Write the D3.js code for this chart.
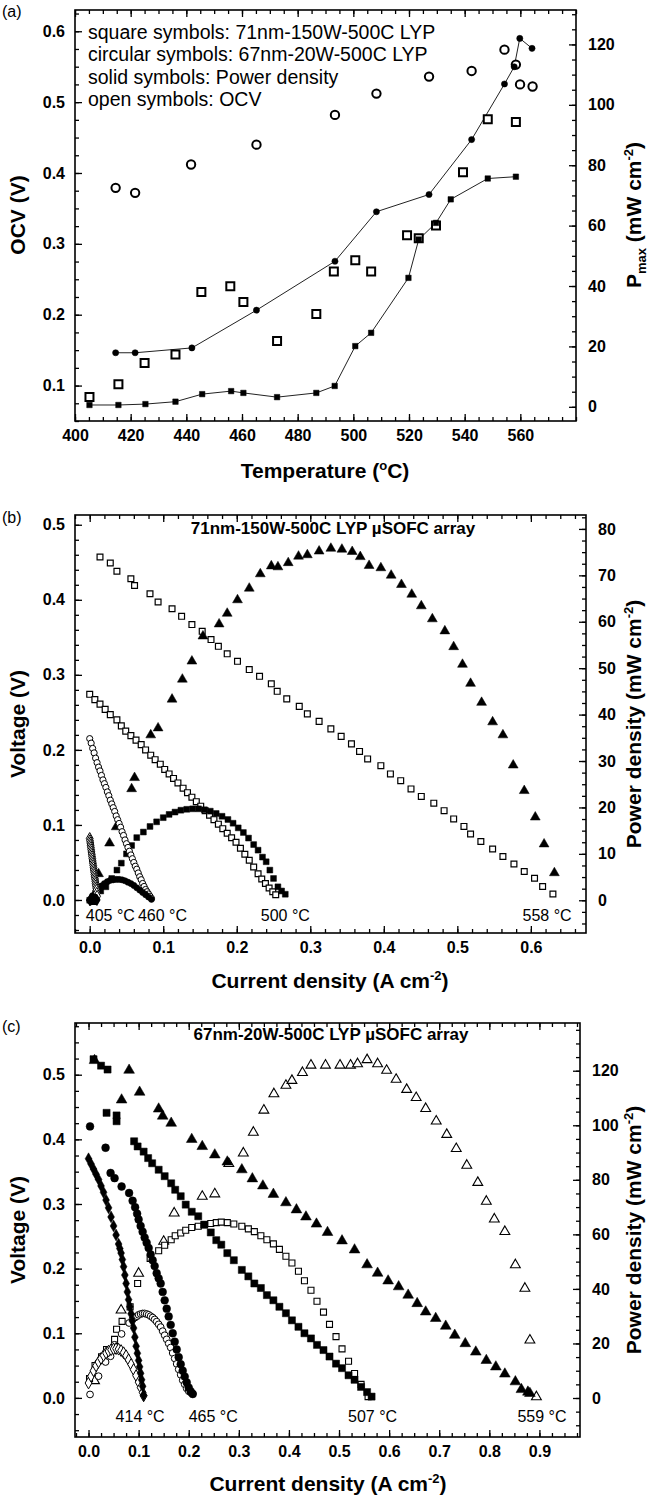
<!DOCTYPE html>
<html>
<head>
<meta charset="utf-8">
<script src="https://cdn.jsdelivr.net/npm/d3@7"></script>
<style>
  body { margin: 0; background: #fff; }
  text { font-family: "Liberation Sans", Arial, sans-serif; fill: #000; }
  .title { font-weight: bold; font-size: 21px; }
</style>
</head>
<body>
<script>
// ---------- panel (a): OCV and Pmax vs temperature ----------
var aOcvCircT = [414.6, 421.6, 441.7, 465.2, 493.4, 508.3, 527.2, 542.5, 554.3, 558.4, 559.9, 564.4];
var aOcvCircV = [0.379, 0.372, 0.412, 0.440, 0.482, 0.512, 0.536, 0.544, 0.574, 0.553, 0.525, 0.522];
var aPowCircT = [414.6, 421.6, 442.0, 465.2, 493.4, 508.3, 527.2, 542.5, 554.3, 557.8, 559.8, 564.2];
var aPowCircP = [17.9, 17.9, 19.5, 32.0, 48.2, 64.6, 70.3, 88.5, 106.9, 112.6, 122.0, 118.7];
var aOcvSqT = [405.2, 415.6, 425.0, 436.1, 445.4, 455.8, 460.5, 472.6, 486.7, 493.0, 500.7, 506.4, 519.3, 523.5, 529.7, 539.4, 548.3, 558.4];
var aOcvSqV = [0.084, 0.102, 0.132, 0.144, 0.232, 0.240, 0.218, 0.163, 0.201, 0.261, 0.277, 0.261, 0.312, 0.308, 0.326, 0.401, 0.476, 0.472];
var aPowSqT = [405.2, 415.6, 425.3, 436.1, 445.7, 456.1, 460.5, 472.6, 486.7, 493.3, 500.7, 506.4, 519.8, 523.5, 529.7, 535.0, 548.3, 558.4];
var aPowSqP = [0.6, 0.6, 0.9, 1.7, 4.2, 5.2, 4.6, 3.2, 4.6, 6.9, 20.1, 24.5, 42.7, 55.4, 60.9, 68.7, 75.6, 76.2];
var aLegend = ["square symbols: 71nm-150W-500C LYP", "circular symbols: 67nm-20W-500C LYP",
               "solid symbols: Power density", "open symbols: OCV"];
var aXTicks = [400, 420, 440, 460, 480, 500, 520, 540, 560];
var aYTicks = [0.1, 0.2, 0.3, 0.4, 0.5, 0.6];
var aRTicks = [0, 20, 40, 60, 80, 100, 120];

// ---------- panel (b): 71nm-150W-500C ----------
var b558I = [0.014, 0.028, 0.037, 0.056, 0.061, 0.082, 0.093, 0.112, 0.125, 0.139, 0.153, 0.165, 0.175, 0.187, 0.201, 0.217, 0.231, 0.247, 0.255, 0.268, 0.285, 0.296, 0.312, 0.328, 0.342, 0.356,
             0.367, 0.378, 0.396, 0.409, 0.423, 0.437, 0.451, 0.468, 0.482, 0.495, 0.509, 0.518, 0.532, 0.548, 0.562, 0.577, 0.591, 0.605, 0.616, 0.630];
var b558V = [0.457, 0.449, 0.438, 0.428, 0.419, 0.408, 0.397, 0.388, 0.378, 0.367, 0.358, 0.347, 0.338, 0.328, 0.318, 0.307, 0.298, 0.288, 0.278, 0.268, 0.258, 0.248, 0.238, 0.228, 0.218, 0.208,
             0.198, 0.188, 0.179, 0.168, 0.159, 0.148, 0.138, 0.129, 0.119, 0.108, 0.098, 0.088, 0.078, 0.068, 0.058, 0.048, 0.038, 0.029, 0.018, 0.008];
var b558PI = [0.012, 0.027, 0.036, 0.057, 0.061, 0.083, 0.093, 0.112, 0.126, 0.139, 0.154, 0.176, 0.187, 0.201, 0.217, 0.232, 0.247, 0.256, 0.270, 0.284, 0.296, 0.312, 0.328, 0.343, 0.357,
              0.368, 0.380, 0.396, 0.410, 0.424, 0.438, 0.451, 0.466, 0.483, 0.495, 0.507, 0.518, 0.533, 0.548, 0.562, 0.576, 0.591, 0.606, 0.618, 0.632];
var b558P = [5.7, 12.3, 15.8, 24.0, 26.4, 35.6, 37.1, 43.3, 47.6, 51.5, 56.9, 59.5, 61.8, 64.7, 67.2, 70.3, 72.0, 71.8, 72.7, 74.1, 74.4, 75.2, 75.8, 75.6, 75.1,
             74.0, 72.1, 71.6, 70.0, 68.0, 65.9, 63.4, 60.6, 58.0, 54.6, 50.8, 46.7, 42.6, 38.4, 35.6, 29.1, 23.6, 17.9, 12.1, 5.9];
var b500I = [0.000, 0.007, 0.014, 0.021, 0.028, 0.037, 0.043, 0.049, 0.056, 0.063, 0.070, 0.076, 0.083, 0.089, 0.096, 0.102, 0.108, 0.114, 0.120, 0.127, 0.133, 0.139, 0.145, 0.151,
             0.157, 0.163, 0.169, 0.175, 0.181, 0.187, 0.193, 0.199, 0.205, 0.211, 0.217, 0.223, 0.229, 0.234, 0.239, 0.244, 0.249, 0.253];
var b500V = [0.274, 0.267, 0.261, 0.254, 0.247, 0.240, 0.232, 0.225, 0.219, 0.213, 0.207, 0.200, 0.193, 0.187, 0.181, 0.174, 0.168, 0.162, 0.156, 0.149, 0.143, 0.137, 0.131, 0.125,
             0.119, 0.113, 0.107, 0.101, 0.095, 0.089, 0.083, 0.077, 0.069, 0.061, 0.053, 0.044, 0.035, 0.028, 0.022, 0.016, 0.011, 0.007];
var b500PI = [0.000, 0.008, 0.015, 0.022, 0.030, 0.037, 0.043, 0.050, 0.057, 0.064, 0.073, 0.082, 0.091, 0.100, 0.108, 0.116, 0.124, 0.132, 0.140, 0.148, 0.156, 0.164, 0.172,
              0.180, 0.188, 0.195, 0.202, 0.209, 0.216, 0.223, 0.229, 0.235, 0.240, 0.245, 0.250, 0.256, 0.261, 0.266];
var b500P = [0.0, 1.2, 2.0, 2.9, 4.7, 6.5, 8.0, 10.0, 11.8, 13.5, 14.7, 15.9, 16.9, 17.8, 18.5, 19.0, 19.4, 19.6, 19.7, 19.7, 19.5, 19.2, 18.7,
             18.1, 17.4, 16.6, 15.6, 14.6, 13.4, 12.0, 10.8, 9.3, 8.3, 6.5, 4.7, 2.9, 2.0, 1.3];
var b460I = [0.000, 0.002, 0.004, 0.006, 0.008, 0.010, 0.012, 0.014, 0.016, 0.018, 0.020, 0.022, 0.024, 0.026, 0.028, 0.030, 0.032, 0.034, 0.036, 0.038, 0.040, 0.042,
             0.044, 0.046, 0.048, 0.050, 0.052, 0.054, 0.056, 0.058, 0.060, 0.062, 0.064, 0.066, 0.068, 0.070, 0.072, 0.074, 0.076, 0.078, 0.080, 0.082, 0.084];
var b460V = [0.215, 0.209, 0.202, 0.196, 0.189, 0.183, 0.177, 0.172, 0.166, 0.160, 0.155, 0.150, 0.144, 0.139, 0.133, 0.128, 0.123, 0.118, 0.112, 0.107, 0.102, 0.097,
             0.091, 0.086, 0.080, 0.075, 0.070, 0.065, 0.060, 0.055, 0.050, 0.045, 0.041, 0.036, 0.031, 0.027, 0.022, 0.018, 0.014, 0.011, 0.008, 0.005, 0.002];
var b460PI = [0.000, 0.004, 0.008, 0.012, 0.016, 0.020, 0.024, 0.028, 0.032, 0.036, 0.040, 0.044, 0.048, 0.052, 0.056, 0.060, 0.064, 0.068, 0.072, 0.076, 0.080, 0.084];
var b460P = [0.0, 1.0, 1.8, 2.5, 3.1, 3.6, 4.0, 4.3, 4.4, 4.5, 4.5, 4.4, 4.2, 3.9, 3.6, 3.2, 2.7, 2.2, 1.7, 1.2, 0.7, 0.2];
var b405I = [0.0000, 0.0004, 0.0008, 0.0012, 0.0016, 0.0020, 0.0024, 0.0028, 0.0032, 0.0036, 0.0040, 0.0044, 0.0048, 0.0052, 0.0056, 0.0060, 0.0064, 0.0068, 0.0072,
             0.0076, 0.0080, 0.0084, 0.0088, 0.0092, 0.0096, 0.0100];
var b405V = [0.082, 0.079, 0.076, 0.073, 0.070, 0.067, 0.064, 0.061, 0.058, 0.055, 0.052, 0.049, 0.046, 0.043, 0.040, 0.037, 0.034, 0.031, 0.028, 0.025, 0.022, 0.019, 0.016, 0.013, 0.009, 0.005];
var b405P = [0.0, 0.03, 0.06, 0.09, 0.11, 0.13, 0.15, 0.17, 0.19, 0.20, 0.21, 0.22, 0.22, 0.22, 0.22, 0.22, 0.22, 0.21, 0.20, 0.19, 0.18, 0.16, 0.14, 0.12, 0.09, 0.05];
var bTempText = ["405 °C", "460 °C", "500 °C", "558 °C"];
var bTempI = [0.028, 0.099, 0.266, 0.622];
var bXTicks = [0.0, 0.1, 0.2, 0.3, 0.4, 0.5, 0.6];
var bYTicks = [0.0, 0.1, 0.2, 0.3, 0.4, 0.5];
var bRTicks = [0, 10, 20, 30, 40, 50, 60, 70, 80];

// ---------- panel (c): 67nm-20W-500C ----------
var c559I = [0.012, 0.066, 0.081, 0.102, 0.140, 0.148, 0.165, 0.206, 0.227, 0.252, 0.277, 0.306, 0.327, 0.348, 0.369, 0.394, 0.415, 0.434, 0.455, 0.477, 0.506, 0.531,
             0.556, 0.577, 0.598, 0.619, 0.638, 0.656, 0.673, 0.693, 0.713, 0.731, 0.752, 0.773, 0.794, 0.813, 0.831, 0.852, 0.864, 0.877, 0.881];
var c559V = [0.522, 0.461, 0.507, 0.473, 0.447, 0.436, 0.425, 0.400, 0.389, 0.376, 0.365, 0.353, 0.339, 0.328, 0.315, 0.302, 0.291, 0.280, 0.269, 0.256, 0.243, 0.229,
             0.206, 0.193, 0.181, 0.172, 0.159, 0.146, 0.133, 0.123, 0.111, 0.097, 0.084, 0.071, 0.058, 0.048, 0.037, 0.025, 0.013, 0.009, 0.007];
var c559PI = [0.012, 0.065, 0.100, 0.150, 0.171, 0.227, 0.252, 0.280, 0.309, 0.329, 0.350, 0.370, 0.394, 0.406, 0.427, 0.444, 0.473, 0.502, 0.523, 0.537, 0.556, 0.577,
              0.595, 0.614, 0.635, 0.654, 0.673, 0.694, 0.715, 0.734, 0.755, 0.777, 0.794, 0.810, 0.831, 0.852, 0.871, 0.881, 0.894];
var c559P = [6.3, 32.2, 45.7, 57.4, 67.8, 73.9, 74.8, 85.9, 89.8, 97.4, 105.5, 111.5, 114.6, 116.4, 119.3, 122.0, 122.0, 122.0, 122.0, 122.5, 124.0, 122.5,
             120.1, 116.8, 113.1, 110.1, 106.1, 101.5, 96.6, 91.4, 85.3, 79.0, 72.1, 65.6, 61.0, 48.8, 40.2, 21.2, 0.4];
var c507I = [0.010, 0.025, 0.038, 0.036, 0.056, 0.056, 0.091, 0.098, 0.110, 0.119, 0.127, 0.140, 0.152, 0.165, 0.173, 0.184, 0.194, 0.206, 0.219, 0.231, 0.244, 0.255, 0.265,
             0.277, 0.290, 0.306, 0.319, 0.331, 0.344, 0.356, 0.369, 0.381, 0.394, 0.406, 0.419, 0.431, 0.444, 0.456, 0.469, 0.481, 0.494, 0.506, 0.519, 0.531, 0.544, 0.556, 0.565];
var c507V = [0.524, 0.514, 0.508, 0.441, 0.437, 0.428, 0.397, 0.389, 0.381, 0.371, 0.363, 0.353, 0.343, 0.332, 0.322, 0.312, 0.299, 0.288, 0.281, 0.268, 0.256, 0.244, 0.237,
             0.224, 0.213, 0.198, 0.188, 0.177, 0.170, 0.159, 0.151, 0.141, 0.131, 0.120, 0.110, 0.100, 0.092, 0.082, 0.074, 0.064, 0.053, 0.046, 0.035, 0.028, 0.017, 0.009, 0.002];
var c507PI = [0.002, 0.013, 0.026, 0.036, 0.052, 0.056, 0.067, 0.083, 0.098, 0.123, 0.140, 0.152, 0.165, 0.173, 0.184, 0.194, 0.206, 0.219, 0.231, 0.244, 0.255, 0.265, 0.277,
              0.290, 0.306, 0.319, 0.331, 0.344, 0.356, 0.369, 0.381, 0.394, 0.406, 0.419, 0.431, 0.444, 0.456, 0.469, 0.481, 0.494, 0.506, 0.519, 0.531, 0.544, 0.558];
var c507P = [7.1, 11.9, 15.1, 17.8, 21.5, 25.2, 28.1, 33.4, 42.0, 51.2, 54.0, 56.0, 58.0, 59.5, 60.5, 61.5, 62.5, 63.0, 63.5, 64.0, 64.3, 64.5, 64.3,
             63.8, 63.0, 62.0, 61.0, 59.5, 58.0, 56.5, 54.5, 52.0, 49.5, 46.5, 43.0, 39.5, 35.5, 31.5, 27.0, 22.5, 18.0, 13.5, 9.0, 5.0, 0.5];
var c465I = [0.003, 0.034, 0.044, 0.052, 0.066, 0.081, 0.088, 0.093, 0.097, 0.100, 0.104, 0.108, 0.112, 0.116, 0.120, 0.124, 0.128, 0.132, 0.136, 0.140, 0.144, 0.148,
             0.152, 0.156, 0.160, 0.164, 0.168, 0.172, 0.176, 0.180, 0.184, 0.188, 0.192, 0.196, 0.200, 0.204, 0.208];
var c465V = [0.420, 0.387, 0.348, 0.340, 0.327, 0.317, 0.305, 0.295, 0.285, 0.276, 0.266, 0.257, 0.248, 0.240, 0.232, 0.222, 0.213, 0.204, 0.193, 0.185, 0.177, 0.164,
             0.151, 0.138, 0.126, 0.113, 0.100, 0.087, 0.075, 0.063, 0.052, 0.042, 0.033, 0.024, 0.016, 0.010, 0.006];
var c465PI = [0.003, 0.020, 0.034, 0.044, 0.052, 0.066, 0.081, 0.088, 0.093, 0.097, 0.100, 0.104, 0.108, 0.112, 0.116, 0.120, 0.124, 0.128, 0.132, 0.136, 0.140, 0.144,
              0.148, 0.152, 0.156, 0.160, 0.164, 0.168, 0.172, 0.176, 0.180, 0.184, 0.188, 0.192, 0.196, 0.200, 0.204, 0.208];
var c465P = [1.3, 8.0, 13.2, 15.3, 19.5, 23.5, 27.5, 29.0, 29.5, 30.0, 30.5, 30.8, 31.0, 31.0, 30.8, 30.5, 30.0, 29.5, 28.8, 28.0, 27.0, 26.0,
             24.5, 23.0, 21.5, 20.0, 18.5, 16.5, 14.5, 12.5, 10.5, 8.5, 6.5, 5.0, 3.5, 2.5, 2.0, 1.6];
var c414I = [0.000, 0.005, 0.010, 0.015, 0.020, 0.025, 0.030, 0.035, 0.040, 0.045, 0.050, 0.055, 0.060, 0.0625, 0.065, 0.0675, 0.070, 0.0725, 0.075, 0.0775, 0.080,
             0.0825, 0.085, 0.0875, 0.090, 0.0925, 0.095, 0.0975, 0.100, 0.102, 0.104, 0.106, 0.108, 0.110];
var c414V = [0.370, 0.362, 0.354, 0.346, 0.338, 0.328, 0.318, 0.306, 0.294, 0.280, 0.266, 0.252, 0.238, 0.231, 0.224, 0.214, 0.203, 0.190, 0.177, 0.164, 0.152,
             0.141, 0.130, 0.119, 0.108, 0.094, 0.080, 0.069, 0.058, 0.048, 0.038, 0.028, 0.018, 0.004];
var c414PI = [0.000, 0.005, 0.010, 0.015, 0.020, 0.025, 0.030, 0.035, 0.040, 0.045, 0.050, 0.055, 0.060, 0.065, 0.070, 0.075, 0.080, 0.085, 0.090, 0.095, 0.100, 0.104, 0.108, 0.110];
var c414P = [5.5, 8.0, 10.0, 11.8, 13.2, 14.5, 15.6, 16.5, 17.2, 17.7, 18.0, 18.1, 17.9, 17.4, 16.6, 15.5, 14.0, 12.3, 10.4, 8.2, 5.8, 3.8, 2.0, 0.8];
var cTempText = ["414 °C", "465 °C", "507 °C", "559 °C"];
var cTempI = [0.103, 0.249, 0.567, 0.905];
var cXTicks = [0.0, 0.1, 0.2, 0.3, 0.4, 0.5, 0.6, 0.7, 0.8, 0.9];
var cYTicks = [0.0, 0.1, 0.2, 0.3, 0.4, 0.5];
var cRTicks = [0, 20, 40, 60, 80, 100, 120];

var W = 649, H = 1498;
var svg = d3.select("body").append("svg").attr("width", W).attr("height", H);
svg.append("rect").attr("width", W).attr("height", H).attr("fill", "#fff");

function steps(lo, hi, step) {
  var out = [], n = Math.round((hi - lo) / step);
  for (var i = 0; i <= n; i++) out.push(+(lo + i * step).toFixed(6));
  return out;
}

// frame, inward major/minor ticks on all four sides, tick labels
function makePanel(c) {
  var g = svg.append("g");
  var x = d3.scaleLinear().domain(c.xDom).range([c.left, c.right]);
  var y = d3.scaleLinear().domain(c.yDom).range([c.bottom, c.top]);
  var yr = d3.scaleLinear().domain(c.rDom).range([c.bottom, c.top]);
  var inX = function(v) { return v >= c.xDom[0] && v <= c.xDom[1]; };
  var inY = function(v) { return v >= c.yDom[0] && v <= c.yDom[1]; };
  var inR = function(v) { return v >= c.rDom[0] && v <= c.rDom[1]; };
  var xMinor = c.xMinor.filter(inX), yMinor = c.yMinor.filter(inY), rMinor = c.rMinor.filter(inR);

  function put(axis, tr) {
    var a = g.append("g").attr("transform", tr).call(axis);
    a.select(".domain").remove();
    a.selectAll("line").attr("stroke", "#000").attr("stroke-width", 1.3);
    return a;
  }
  put(d3.axisBottom(x).tickValues(c.xTicks).tickSize(-7).tickPadding(9).tickFormat(c.xFmt), "translate(0," + c.bottom + ")");
  put(d3.axisBottom(x).tickValues(xMinor).tickSize(-4).tickFormat(""), "translate(0," + c.bottom + ")");
  put(d3.axisTop(x).tickValues(c.xTicks).tickSize(-7).tickFormat(""), "translate(0," + c.top + ")");
  put(d3.axisTop(x).tickValues(xMinor).tickSize(-4).tickFormat(""), "translate(0," + c.top + ")");
  put(d3.axisLeft(y).tickValues(c.yTicks).tickSize(-7).tickPadding(10).tickFormat(d3.format(".1f")), "translate(" + c.left + ",0)");
  put(d3.axisLeft(y).tickValues(yMinor).tickSize(-4).tickFormat(""), "translate(" + c.left + ",0)");
  put(d3.axisRight(yr).tickValues(c.rTicks).tickSize(-7).tickPadding(12).tickFormat(d3.format("d")), "translate(" + c.right + ",0)");
  put(d3.axisRight(yr).tickValues(rMinor).tickSize(-4).tickFormat(""), "translate(" + c.right + ",0)");
  g.selectAll(".tick text").attr("font-size", 16).attr("font-weight", "bold").attr("font-family", "Liberation Sans, Arial, sans-serif");

  g.append("rect").attr("x", c.left).attr("y", c.top)
    .attr("width", c.right - c.left).attr("height", c.bottom - c.top)
    .attr("fill", "none").attr("stroke", "#000").attr("stroke-width", 1.6);

  return { g: g, x: x, y: y, yr: yr };
}

function points(p, xs, ys, yScale, type, size, filled, sw) {
  p.g.append("g").selectAll("path")
    .data(xs.map(function(d, i) { return [d, ys[i]]; }))
    .join("path")
    .attr("transform", function(d) { return "translate(" + p.x(d[0]) + "," + yScale(d[1]) + ")"; })
    .attr("d", d3.symbol().type(type).size(size))
    .attr("fill", filled ? "#000" : "#fff")
    .attr("stroke", "#000")
    .attr("stroke-width", sw);
}

function connect(p, xs, ys, yScale) {
  var line = d3.line().x(function(d) { return p.x(d[0]); }).y(function(d) { return yScale(d[1]); });
  p.g.append("path").datum(xs.map(function(d, i) { return [d, ys[i]]; }))
    .attr("d", line).attr("fill", "none").attr("stroke", "#222").attr("stroke-width", 1);
}

// rotated title (reads bottom to top) with optional sub/superscript tspans
function vTitle(xPos, yPos, s) {
  return svg.append("text").attr("class", "title")
    .attr("transform", "translate(" + xPos + "," + yPos + ") rotate(-90)")
    .attr("text-anchor", "middle").text(s);
}
function sup(t, s) {
  t.append("tspan").attr("dy", -8).attr("font-size", 13).text(s);
  t.append("tspan").attr("dy", 8).text(")");
}
function tag(xPos, yPos, s) {
  svg.append("text").attr("x", xPos).attr("y", yPos).attr("font-size", 16).text(s);
}

// ================= (a) =================
var pa = makePanel({
  left: 75, right: 576, top: 10, bottom: 421,
  xDom: [400, 580], yDom: [0.05, 0.63], rDom: [-4.7, 131.4],
  xTicks: aXTicks, yTicks: aYTicks, rTicks: aRTicks,
  xMinor: steps(400, 580, 5), yMinor: steps(0.05, 0.625, 0.025), rMinor: steps(-5, 130, 5),
  xFmt: d3.format("d")
});
connect(pa, aPowCircT, aPowCircP, pa.yr);
connect(pa, aPowSqT, aPowSqP, pa.yr);
points(pa, aOcvSqT, aOcvSqV, pa.y, d3.symbolSquare, 64, false, 2);
points(pa, aOcvCircT, aOcvCircV, pa.y, d3.symbolCircle, 55, false, 2);
points(pa, aPowSqT, aPowSqP, pa.yr, d3.symbolSquare, 30, true, 0.5);
points(pa, aPowCircT, aPowCircP, pa.yr, d3.symbolCircle, 30, true, 0.5);

aLegend.forEach(function(s, i) {
  svg.append("text").attr("x", 88).attr("y", 39 + i * 22.3).attr("font-size", 19.5).attr("fill", "#222").text(s);
});
tag(2, 17, "(a)");
vTitle(25, 215, "OCV (V)");
var ta = svg.append("text").attr("class", "title")
  .attr("transform", "translate(641,215) rotate(-90)").attr("text-anchor", "middle");
ta.append("tspan").text("P");
ta.append("tspan").attr("dy", 5).attr("font-size", 13).text("max");
ta.append("tspan").attr("dy", -5).text(" (mW cm");
sup(ta, "-2");
var tt = svg.append("text").attr("class", "title").attr("x", 325).attr("y", 478).attr("text-anchor", "middle");
tt.append("tspan").text("Temperature (");
tt.append("tspan").attr("dy", -8).attr("font-size", 13).text("o");
tt.append("tspan").attr("dy", 8).text("C)");

// ================= (b) =================
var pb = makePanel({
  left: 75, right: 586, top: 515, bottom: 933,
  xDom: [-0.02, 0.675], yDom: [-0.044, 0.513], rDom: [-7.05, 83],
  xTicks: bXTicks, yTicks: bYTicks, rTicks: bRTicks,
  xMinor: steps(-0.02, 0.66, 0.02), yMinor: steps(-0.04, 0.5, 0.02), rMinor: steps(-5, 82.5, 2.5),
  xFmt: d3.format(".1f")
});
points(pb, b558I, b558V, pb.y, d3.symbolSquare, 34, false, 1.2);
points(pb, b558PI, b558P, pb.yr, d3.symbolTriangle, 42, true, 0.5);
points(pb, b500I, b500V, pb.y, d3.symbolSquare, 34, false, 1.2);
points(pb, b500PI, b500P, pb.yr, d3.symbolSquare, 34, true, 0.5);
points(pb, b460I, b460V, pb.y, d3.symbolCircle, 30, false, 1);
points(pb, b460PI, b460P, pb.yr, d3.symbolCircle, 30, true, 0.5);
points(pb, b405I, b405V, pb.y, d3.symbolDiamond, 40, false, 1);
points(pb, b405I, b405P, pb.yr, d3.symbolDiamond, 34, true, 0.5);
bTempText.forEach(function(s, i) {
  svg.append("text").attr("x", pb.x(bTempI[i])).attr("y", 921).attr("text-anchor", "middle").attr("font-size", 16).text(s);
});
svg.append("text").attr("x", 333).attr("y", 534).attr("text-anchor", "middle")
  .attr("font-size", 17).attr("font-weight", "bold").text("71nm-150W-500C LYP µSOFC array");
tag(2, 523, "(b)");
vTitle(25, 724, "Voltage (V)");
var tb = vTitle(641, 724, "Power density (mW cm");
sup(tb, "-2");
var cb = svg.append("text").attr("class", "title").attr("x", 330).attr("y", 988).attr("text-anchor", "middle");
cb.append("tspan").text("Current density (A cm");
sup(cb, "-2");

// ================= (c) =================
var pc = makePanel({
  left: 75, right: 580, top: 1023, bottom: 1437,
  xDom: [-0.027, 0.981], yDom: [-0.0605, 0.58], rDom: [-14.3, 137.5],
  xTicks: cXTicks, yTicks: cYTicks, rTicks: cRTicks,
  xMinor: steps(-0.025, 0.975, 0.025), yMinor: steps(-0.05, 0.575, 0.025), rMinor: steps(-10, 135, 5),
  xFmt: d3.format(".1f")
});
points(pc, c559PI, c559P, pc.yr, d3.symbolTriangle, 42, false, 1.1);
points(pc, c507PI, c507P, pc.yr, d3.symbolSquare, 36, false, 1.1);
points(pc, c465PI, c465P, pc.yr, d3.symbolCircle, 36, false, 1);
points(pc, c414PI, c414P, pc.yr, d3.symbolDiamond, 40, false, 1);
points(pc, c559I, c559V, pc.y, d3.symbolTriangle, 50, true, 0.5);
points(pc, c507I, c507V, pc.y, d3.symbolSquare, 50, true, 0.5);
points(pc, c465I, c465V, pc.y, d3.symbolCircle, 48, true, 0.5);
points(pc, c414I, c414V, pc.y, d3.symbolDiamond, 40, true, 0.5);
cTempText.forEach(function(s, i) {
  svg.append("text").attr("x", pc.x(cTempI[i])).attr("y", 1422).attr("text-anchor", "middle").attr("font-size", 16).text(s);
});
svg.append("text").attr("x", 331).attr("y", 1040).attr("text-anchor", "middle")
  .attr("font-size", 17).attr("font-weight", "bold").text("67nm-20W-500C LYP µSOFC array");
tag(2, 1032, "(c)");
vTitle(25, 1230, "Voltage (V)");
var tc = vTitle(641, 1230, "Power density (mW cm");
sup(tc, "-2");
var cc = svg.append("text").attr("class", "title").attr("x", 328).attr("y", 1491).attr("text-anchor", "middle");
cc.append("tspan").text("Current density (A cm");
sup(cc, "-2");
</script>
</body>
</html>
